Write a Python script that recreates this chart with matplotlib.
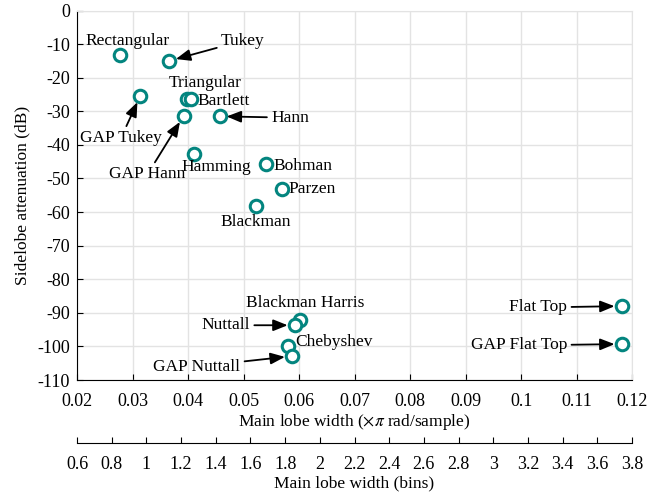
import matplotlib
matplotlib.use("Agg")
import matplotlib.pyplot as plt

plt.rcParams['font.family'] = ['Liberation Serif', 'DejaVu Serif']
plt.rcParams['mathtext.fontset'] = 'stix'
plt.rcParams['axes.unicode_minus'] = False

names = ["Rectangular", "Tukey", "GAP Tukey", "Triangular", "Bartlett", "GAP Hann",
         "Hann", "Hamming", "Bohman", "Parzen", "Blackman", "Blackman Harris",
         "Nuttall", "Chebyshev", "GAP Nuttall", "Flat Top", "GAP Flat Top"]
width = [0.0278, 0.0366, 0.0314, 0.0398, 0.0405, 0.0392,
         0.0457, 0.0411, 0.0541, 0.0569, 0.0522, 0.0602,
         0.0592, 0.0580, 0.0587, 0.1181, 0.1181]
atten = [-13.3, -15.0, -25.4, -26.4, -26.4, -31.4,
         -31.5, -42.6, -45.8, -53.0, -58.1, -92.0,
         -93.7, -99.8, -102.9, -88.0, -99.3]

# label placement: (dx pts, dy pts, ha, arrow?)
place = {
    "Rectangular": (5, 10, "center", False),
    "Tukey": (53, 14.5, "center", True),
    "GAP Tukey": (-14, -30.5, "center", True),
    "Triangular": (13, 12, "center", False),
    "Bartlett": (5, -1, "left", False),
    "GAP Hann": (-26, -42, "center", True),
    "Hann": (37, -1, "left", True),
    "Hamming": (16, -10, "center", False),
    "Bohman": (5, -1, "left", False),
    "Parzen": (5, 0, "left", False),
    "Blackman": (0, -12, "center", False),
    "Blackman Harris": (3.5, 12, "center", False),
    "Nuttall": (-32, 0, "right", True),
    "Chebyshev": (5, 3, "left", False),
    "GAP Nuttall": (-37, -7.5, "right", True),
    "Flat Top": (-39, -1, "right", True),
    "GAP Flat Top": (-39, -1, "right", True),
}

fig = plt.figure(figsize=(6.6, 4.93), dpi=100)
ax = fig.add_axes([0.1167, 0.2292, 0.841, 0.7495])
ax.plot(width, atten, 'o', mfc='white', mec='#03857f', mew=2.2, ms=9, ls='none', zorder=3)
ax.set_xlim(0.02, 0.12)
ax.set_ylim(-110, 0)
ax.set_xticks([0.02 + 0.01 * i for i in range(11)])
ax.set_xticklabels(["0.02", "0.03", "0.04", "0.05", "0.06", "0.07", "0.08", "0.09", "0.1", "0.11", "0.12"])
ax.set_yticks(list(range(-110, 1, 10)))
ax.grid(True, color='#e3e3e3', lw=1.0)
ax.set_axisbelow(True)
for s in ['top', 'right']:
    ax.spines[s].set_color('#e3e3e3')
ax.tick_params(direction='in', length=4, labelsize=13, top=False, right=False)
ax.tick_params(axis='x', pad=9)
ax.tick_params(axis='y', pad=5)
ax.set_xlabel(r"Main lobe width ($\times\pi$ rad/sample)", fontsize=12.5, labelpad=2)
ax.set_ylabel("Sidelobe attenuation (dB)", fontsize=12.5, labelpad=5)

for n, x, y in zip(names, width, atten):
    dx, dy, ha, arr = place[n]
    if arr:
        ax.annotate(n, xy=(x, y), xytext=(dx, dy), textcoords='offset points',
                    ha=ha, va='center', fontsize=12.5,
                    arrowprops=dict(arrowstyle='-|>,head_length=0.7,head_width=0.28',
                                    color='black', lw=1.3, shrinkA=1, shrinkB=5))
    else:
        ax.annotate(n, xy=(x, y), xytext=(dx, dy), textcoords='offset points',
                    ha=ha, va='center', fontsize=12.5)

ax2 = fig.add_axes([0.1167, 0.1014, 0.841, 0.001])
ax2.set_xlim(0.6, 3.8)
ax2.set_xticks([0.6 + 0.2 * i for i in range(17)])
ax2.set_xticklabels(["0.6", "0.8", "1", "1.2", "1.4", "1.6", "1.8", "2", "2.2", "2.4",
                     "2.6", "2.8", "3", "3.2", "3.4", "3.6", "3.8"])
ax2.set_yticks([])
for s in ['top', 'right', 'left']:
    ax2.spines[s].set_visible(False)
ax2.patch.set_visible(False)
ax2.tick_params(direction='in', length=4, labelsize=13, pad=9)
ax2.set_xlabel("Main lobe width (bins)", fontsize=12.5, labelpad=2)

fig.savefig("out.png", dpi=100)
